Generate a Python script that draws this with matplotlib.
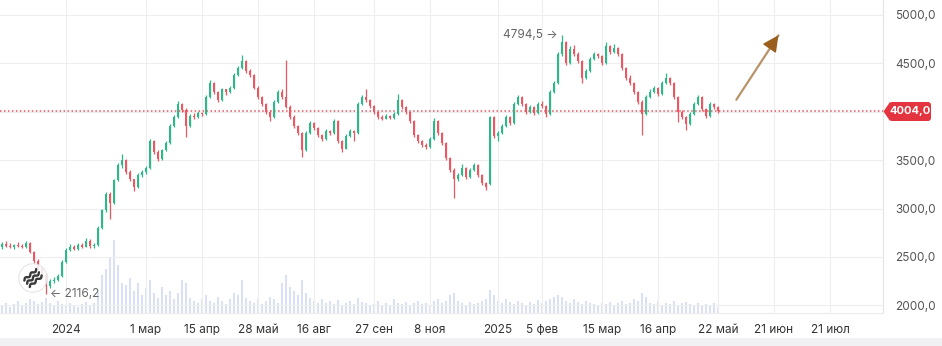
import matplotlib
matplotlib.use("Agg")
import matplotlib.pyplot as plt
import numpy as np
from matplotlib.patches import FancyBboxPatch, Polygon, Circle, Rectangle
from matplotlib.transforms import IdentityTransform
from matplotlib.ticker import FixedLocator, FuncFormatter

# ---- daily OHLC candles ----
opens = [
    2600, 2630, 2615, 2600, 2625, 2610, 2600, 2645, 2550, 2460,
    2390, 2310, 2200, 2250, 2265, 2300, 2450, 2575, 2600, 2585,
    2625, 2605, 2665, 2610, 2620, 2800, 2980, 3150, 3060, 3290,
    3450, 3500, 3380, 3300, 3220, 3350, 3380, 3420, 3700, 3580,
    3510, 3600, 3680, 3850, 3950, 4080, 4020, 3850, 3960, 3950,
    3990, 3980, 4150, 4300, 4200, 4120, 4230, 4200, 4250, 4380,
    4450, 4520, 4420, 4380, 4250, 4150, 4080, 4000, 3950, 4100,
    4200, 4150, 4050, 3950, 3850, 3780, 3600, 3780, 3880, 3830,
    3760, 3720, 3800, 3780, 3900, 3700, 3620, 3750, 3800, 3780,
    4080, 4150, 4120, 4060, 4000, 3950, 3930, 3960, 3940, 3980,
    4120, 4050, 4000, 3900, 3760, 3700, 3660, 3640, 3720, 3900,
    3780, 3680, 3520, 3400, 3300, 3350, 3420, 3330, 3400, 3450,
    3350, 3260, 3250, 3950, 3750, 3780, 3850, 3950, 3880, 4080,
    4150, 4080, 4000, 4050, 3990, 4080, 4060, 3980, 4200, 4300,
    4600, 4720, 4500, 4650, 4600, 4520, 4350, 4420, 4550, 4600,
    4580, 4500, 4680, 4620, 4660, 4600, 4450, 4350, 4300, 4200,
    4100, 3980, 4150, 4200, 4250, 4180, 4300, 4350, 4300, 4150,
    4000, 3950, 3870, 3980, 4080, 4150, 4030, 3960, 4080, 4050,
]
highs = [
    2650, 2660, 2640, 2635, 2650, 2630, 2660, 2655, 2560, 2480,
    2400, 2330, 2270, 2290, 2320, 2470, 2590, 2630, 2620, 2640,
    2640, 2690, 2680, 2640, 2820, 3000, 3170, 3170, 3310, 3470,
    3560, 3510, 3400, 3310, 3370, 3400, 3440, 3720, 3710, 3600,
    3620, 3700, 3870, 3970, 4110, 4090, 4040, 3980, 3990, 4010,
    4000, 4170, 4330, 4310, 4210, 4250, 4240, 4270, 4400, 4470,
    4590, 4530, 4440, 4390, 4270, 4160, 4090, 4020, 4120, 4220,
    4230, 4530, 4070, 3970, 3860, 3790, 3800, 3900, 3890, 3840,
    3770, 3820, 3810, 3930, 3910, 3710, 3770, 3820, 3810, 4100,
    4170, 4240, 4130, 4070, 4010, 3970, 3980, 3970, 4000, 4180,
    4130, 4060, 4010, 3910, 3770, 3710, 3680, 3740, 3940, 3910,
    3790, 3690, 3530, 3420, 3370, 3460, 3430, 3420, 3470, 3460,
    3360, 3270, 3960, 3960, 3800, 3870, 3970, 3960, 4100, 4170,
    4160, 4090, 4070, 4060, 4100, 4110, 4070, 4220, 4320, 4620,
    4794.5, 4730, 4680, 4690, 4620, 4530, 4440, 4570, 4620, 4610,
    4590, 4720, 4690, 4700, 4670, 4610, 4460, 4380, 4310, 4210,
    4120, 4170, 4230, 4270, 4260, 4320, 4400, 4360, 4310, 4160,
    4020, 3960, 4000, 4100, 4170, 4160, 4040, 4100, 4090, 4060,
]
lows = [
    2585, 2600, 2590, 2580, 2600, 2590, 2595, 2540, 2440, 2370,
    2290, 2116.2, 2180, 2230, 2250, 2290, 2440, 2560, 2570, 2575,
    2590, 2600, 2590, 2595, 2610, 2790, 2960, 2890, 3050, 3280,
    3420, 3360, 3280, 3180, 3210, 3330, 3360, 3410, 3560, 3490,
    3500, 3590, 3670, 3840, 3940, 4000, 3740, 3840, 3930, 3940,
    3960, 3970, 4140, 4180, 4100, 4110, 4170, 4190, 4240, 4370,
    4440, 4400, 4360, 4230, 4130, 4060, 3980, 3900, 3940, 4090,
    4130, 4040, 3930, 3830, 3760, 3530, 3590, 3770, 3810, 3740,
    3700, 3710, 3760, 3770, 3680, 3580, 3610, 3740, 3700, 3770,
    4070, 4100, 4040, 3980, 3930, 3910, 3920, 3920, 3930, 3970,
    4030, 3980, 3880, 3740, 3680, 3640, 3620, 3630, 3710, 3760,
    3660, 3500, 3380, 3110, 3280, 3340, 3310, 3320, 3390, 3330,
    3240, 3190, 3240, 3730, 3700, 3770, 3840, 3860, 3870, 4070,
    4060, 3980, 3990, 3970, 3980, 4040, 3950, 3970, 4190, 4290,
    4580, 4480, 4490, 4580, 4500, 4300, 4340, 4410, 4540, 4560,
    4480, 4490, 4600, 4610, 4580, 4430, 4330, 4280, 4180, 4080,
    3760, 3970, 4140, 4190, 4160, 4170, 4290, 4280, 4130, 3890,
    3930, 3810, 3860, 3970, 4070, 4010, 3940, 3950, 4030, 3990,
]
closes = [
    2630, 2615, 2600, 2625, 2610, 2600, 2645, 2550, 2460, 2390,
    2310, 2200, 2250, 2265, 2300, 2450, 2575, 2600, 2585, 2625,
    2605, 2665, 2610, 2620, 2800, 2980, 3150, 3060, 3290, 3450,
    3500, 3380, 3300, 3220, 3350, 3380, 3420, 3700, 3580, 3510,
    3600, 3680, 3850, 3950, 4080, 4020, 3850, 3960, 3950, 3990,
    3980, 4150, 4300, 4200, 4120, 4230, 4200, 4250, 4380, 4450,
    4520, 4420, 4380, 4250, 4150, 4080, 4000, 3950, 4100, 4200,
    4150, 4050, 3950, 3850, 3780, 3600, 3780, 3880, 3830, 3760,
    3720, 3800, 3780, 3900, 3700, 3620, 3750, 3800, 3780, 4080,
    4150, 4120, 4060, 4000, 3950, 3930, 3960, 3940, 3980, 4120,
    4050, 4000, 3900, 3760, 3700, 3660, 3640, 3720, 3900, 3780,
    3680, 3520, 3400, 3300, 3350, 3420, 3330, 3400, 3450, 3350,
    3260, 3220, 3950, 3750, 3780, 3850, 3950, 3880, 4080, 4150,
    4080, 4000, 4050, 3990, 4080, 4060, 3980, 4200, 4300, 4600,
    4720, 4500, 4650, 4600, 4520, 4350, 4420, 4550, 4600, 4580,
    4500, 4680, 4620, 4660, 4600, 4450, 4350, 4300, 4200, 4100,
    3980, 4150, 4200, 4250, 4180, 4300, 4350, 4300, 4150, 4000,
    3950, 3870, 3980, 4080, 4150, 4030, 3960, 4080, 4050, 4004,
]
volumes = [
    8, 10, 6, 9, 12, 7, 10, 14, 12, 9, 11,
    15, 10, 8, 12, 9, 7, 10, 8, 6, 9, 11, 8, 10,
    22, 38, 44, 55, 73, 48, 30,
    28, 35, 22, 30, 18, 25, 33, 20, 15, 26, 18, 22, 14, 20, 33,
    30, 15, 12, 10, 14, 18, 12, 10, 16, 12, 9, 14, 20, 18, 33,
    15, 12, 10, 14, 9, 12, 16, 14, 10, 30, 38, 26, 22, 18, 33,
    20, 15, 12, 10, 14, 10, 12, 9, 13, 8, 10, 12, 9, 15, 11,
    10, 8, 9, 12, 7, 10, 8, 14, 10, 9, 11, 8, 10, 12, 9,
    10, 8, 12, 14, 10, 12, 18, 20, 12, 10, 8, 11, 9, 10, 12, 14,
    23, 18, 12, 10, 14, 11, 9, 12, 10, 8, 11, 9, 13, 10,
    12, 14, 16, 18, 16, 12, 10, 14, 11, 9, 12, 10, 9, 8, 10,
    9, 11, 8, 10, 12, 9, 10, 14, 12, 20, 16, 10, 9, 12, 8,
    10, 9, 12, 8, 10, 11, 9, 8, 10, 7, 9, 8, 10, 6,
]

tick_pos = [16, 36, 50, 64, 78, 93, 107, 124, 135, 150, 164, 179, 193, 207]
tick_labels = ["2024", "1 мар", "15 апр", "28 май", "16 авг", "27 сен", "8 ноя",
               "2025", "5 фев", "15 мар", "16 апр", "22 май", "21 июн", "21 июл"]
price_ticks = [2000, 2500, 3000, 3500, 4000, 4500, 5000]
last_price = 4004.0
peak_idx, peak_price = 140, 4794.5
low_idx, low_price = 11, 2116.2

GREEN = "#2eb88a"
RED = "#ea5864"
VOL = "#c9d3f4"
FONT = ["Inter", "DejaVu Sans"]
plt.rcParams["font.family"] = FONT

W, H = 942, 346
fig = plt.figure(figsize=(W / 100, H / 100), dpi=100)
fig.patch.set_facecolor("white")

rect = [0, 1 - 313 / H, 883 / W, 313 / H]
xlim = (-0.5, 220.25)

# volume underlay
vax = fig.add_axes(rect)
x = np.arange(len(closes))
vax.bar(x, volumes, width=0.3, color=VOL, alpha=0.7, lw=0)
vax.set_xlim(*xlim)
vax.set_ylim(0, 313)
vax.axis("off")

# price panel
ax = fig.add_axes(rect)
ax.set_facecolor("none")
ax.set_xlim(*xlim)
ax.set_ylim(1920, 5155)

o = np.array(opens, float)
c = np.array(closes, float)
h = np.array(highs, float)
l = np.array(lows, float)
col = np.where(c >= o, GREEN, RED)
ax.vlines(x, l, h, colors=col, lw=0.9, zorder=3)
ax.bar(x, np.maximum(np.abs(c - o), 8), bottom=np.minimum(o, c), width=0.6,
       color=col, lw=0, zorder=3)

ax.grid(True, color="#eeeeee", lw=0.8, zorder=0)
ax.set_axisbelow(True)
ax.xaxis.set_major_locator(FixedLocator(tick_pos))
ax.set_xticklabels(tick_labels)
ax.yaxis.tick_right()
ax.yaxis.set_major_locator(FixedLocator(price_ticks))
ax.yaxis.set_major_formatter(FuncFormatter(
    lambda v, p: "" if v == 4000 else f"{v:.1f}".replace(".", ",")))
ax.tick_params(axis="x", length=0, pad=8, labelsize=8.5, labelcolor="#333333")
ax.tick_params(axis="y", length=0, pad=9, labelsize=8.5, labelcolor="#555555")
for s in ("left", "top"):
    ax.spines[s].set_visible(False)
ax.spines["right"].set_color("#e4e4e4")
ax.spines["bottom"].set_color("#ececec")

# last price line
ax.axhline(last_price, color="#e8505b", lw=1.1, ls=(0, (1, 1.6)), zorder=2)

# extremes
ax.text(peak_idx - 1.2, peak_price, f"{peak_price:.1f}".replace(".", ",") + " →",
        ha="right", va="center", fontsize=8.5, color="#666666", zorder=5)
ax.text(low_idx + 1.0, low_price, "← " + f"{low_price:.1f}".replace(".", ","),
        ha="left", va="center", fontsize=8.5, color="#666666", zorder=5)

# trend arrow
ax.annotate("", xy=(194.5, 4814), xytext=(183.2, 4100),
            arrowprops=dict(arrowstyle="-", color="#b8936a", lw=1.6), zorder=5)
ax.annotate("", xy=(194.5, 4814), xytext=(192.6, 4700),
            arrowprops=dict(arrowstyle="-|>,head_length=1.0,head_width=0.5",
                            color="#9a5f1e", lw=1.0), zorder=6)

# price tag
ident = IdentityTransform()
ty = H - 111.5
fig.add_artist(FancyBboxPatch((889, ty - 9.5), 42, 19,
                              boxstyle="round,pad=0,rounding_size=3",
                              transform=ident, fc="#e3343f", ec="none"))
fig.add_artist(Polygon([(883.5, ty), (890, ty - 9.5), (890, ty + 9.5)],
                       closed=True, transform=ident, fc="#e3343f", ec="none"))
fig.text(910 / W, ty / H, f"{last_price:.1f}".replace(".", ","), color="white",
         fontsize=8, fontweight="bold", ha="center", va="center")

# bottom strip
fig.add_artist(Rectangle((0, 0), 1, 8 / H, transform=fig.transFigure,
                         fc="#f1f1f3", ec="none"))

# issuer badge
lax = fig.add_axes([18 / W, (H - 293) / H, 30 / W, 30 / H])
lax.set_xlim(-1, 1)
lax.set_ylim(-1, 1)
lax.set_aspect("equal")
lax.axis("off")
lax.add_patch(Circle((0, 0), 0.95, fc="white", ec="#e2e2e2", lw=0.8, alpha=0.85))
t = np.linspace(-0.55, 0.55, 60)
ang = np.deg2rad(40)
for off in (-0.28, 0.0, 0.28):
    u = t
    v = off + 0.07 * np.sin(t * 2 * np.pi / 0.5)
    xs = u * np.cos(ang) - v * np.sin(ang)
    ys = u * np.sin(ang) + v * np.cos(ang)
    lax.plot(xs, ys, color="#3a3a3a", lw=1.7, solid_capstyle="round")

fig.savefig("out.png", dpi=100, facecolor="white")
